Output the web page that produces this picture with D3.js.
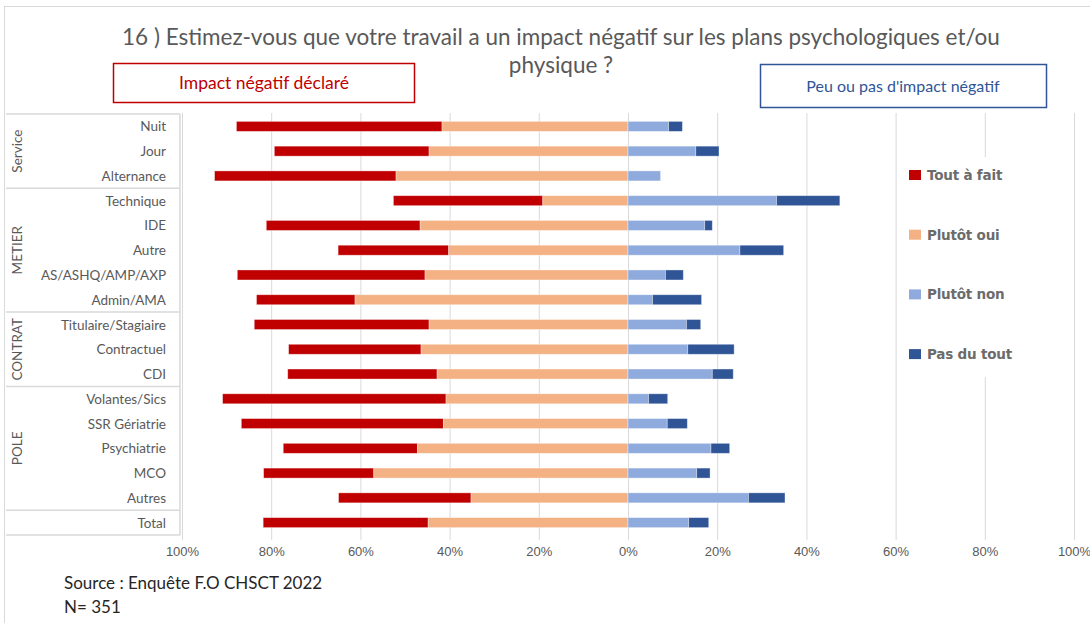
<!DOCTYPE html>
<html>
<head>
<meta charset="utf-8">
<script src="https://cdn.jsdelivr.net/npm/d3@7"></script>
<style>
	body { margin: 0; background: #fff; }
	svg { font-family: Lato, sans-serif; }
	.grid line { stroke: #d9d9d9; stroke-width: 1; }
	.table line { stroke: #d9d9d9; stroke-width: 1.5; }
	.cat { fill: #595959; font-size: 13.5px; }
	.tick text { fill: #595959; font-size: 13px; }
</style>
</head>
<body>
<div id="chart"></div>
<script>
var w = 1090, h = 623;

// Rows, top to bottom
var categories = ["Nuit", "Jour", "Alternance", "Technique", "IDE", "Autre", "AS/ASHQ/AMP/AXP", "Admin/AMA",
	"Titulaire/Stagiaire", "Contractuel", "CDI", "Volantes/Sics", "SSR Gériatrie", "Psychiatrie", "MCO", "Autres", "Total"];

// Row groups (name, number of rows)
var groupNames = ["Service", "METIER", "CONTRAT", "POLE", ""];
var groupSizes = [3, 5, 3, 5, 1];

// Values in %
var toutAFait = [46.1, 34.7, 40.7, 33.5, 34.5, 24.8, 42.1, 22.1, 39.2, 29.7, 33.5, 50.1, 45.3, 30.1, 24.7, 29.7, 37.0];
var plutotOui = [41.7, 44.6, 52.0, 19.1, 46.6, 40.2, 45.5, 61.2, 44.6, 46.4, 42.8, 40.8, 41.4, 47.2, 57.0, 35.2, 44.8];
var plutotNon = [9.1, 15.2, 7.3, 33.3, 17.2, 25.1, 8.4, 5.5, 13.1, 13.4, 18.9, 4.6, 8.8, 18.6, 15.4, 27.0, 13.6];
var pasDuTout = [3.1, 5.2, 0, 14.2, 1.7, 9.8, 4.0, 11.0, 3.2, 10.4, 4.7, 4.3, 4.5, 4.2, 3.0, 8.2, 4.5];

var seriesNames = ["Tout à fait", "Plutôt oui", "Plutôt non", "Pas du tout"];
var seriesColors = ["#c00000", "#f4b183", "#8faadc", "#2f5597"];

var tickValues = [-100, -80, -60, -40, -20, 0, 20, 40, 60, 80, 100];

var title1 = "16 ) Estimez-vous que votre travail a un impact négatif sur les plans psychologiques et/ou";
var title2 = "physique ?";

var svg = d3.select("#chart").append("svg")
	.attr("width", w)
	.attr("height", h);

// Scales
var x = d3.scaleLinear()
	.domain([-100, 100])
	.range([182, 1074]);

var y = d3.scaleBand()
	.domain(categories)
	.range([114, 535]);

var barH = 10;

// Outer frame
svg.append("rect")
	.attr("x", 4.5).attr("y", 6.5)
	.attr("width", w).attr("height", h)
	.attr("fill", "none")
	.attr("stroke", "#d9d9d9");

// Title
svg.append("text")
	.attr("x", 561).attr("y", 45)
	.attr("text-anchor", "middle")
	.attr("fill", "#595959")
	.style("font-size", "22.5px")
	.text(title1);
svg.append("text")
	.attr("x", 561).attr("y", 73)
	.attr("text-anchor", "middle")
	.attr("fill", "#595959")
	.style("font-size", "22.5px")
	.text(title2);

// Side boxes
svg.append("rect")
	.attr("x", 113.5).attr("y", 63.5).attr("width", 301).attr("height", 39)
	.attr("fill", "#fff").attr("stroke", "#c00000").attr("stroke-width", 1.5);
svg.append("text")
	.attr("x", 264).attr("y", 89)
	.attr("text-anchor", "middle")
	.attr("fill", "#c00000")
	.style("font-size", "17.5px")
	.text("Impact négatif déclaré");

svg.append("rect")
	.attr("x", 760.5).attr("y", 64.5).attr("width", 286).attr("height", 43)
	.attr("fill", "#fff").attr("stroke", "#2f5597").attr("stroke-width", 1.5);
svg.append("text")
	.attr("x", 903).attr("y", 92)
	.attr("text-anchor", "middle")
	.attr("fill", "#2f5597")
	.style("font-size", "16px")
	.text("Peu ou pas d'impact négatif");

// Gridlines
svg.append("g")
	.attr("class", "grid")
	.selectAll("line")
	.data(tickValues)
	.enter()
	.append("line")
		.attr("x1", function(d) { return x(d) + 0.5; })
		.attr("x2", function(d) { return x(d) + 0.5; })
		.attr("y1", 113)
		.attr("y2", 540);

// Axis labels
var axis = svg.append("g")
	.attr("transform", "translate(0,541)")
	.call(d3.axisBottom(x)
		.tickValues(tickValues)
		.tickSize(0)
		.tickPadding(6)
		.tickFormat(function(d) { return Math.abs(d) + "%"; }));
axis.select(".domain").remove();
axis.selectAll("text").style("font-family", null);

// Stacked bars
var rows = categories.map(function(c, i) {
	var po = plutotOui[i], taf = toutAFait[i], pn = plutotNon[i], pdt = pasDuTout[i];
	return [
		{ cat: c, s: 0, x0: -po - taf, x1: -po },
		{ cat: c, s: 1, x0: -po, x1: 0 },
		{ cat: c, s: 2, x0: 0, x1: pn },
		{ cat: c, s: 3, x0: pn, x1: pn + pdt }
	];
});

svg.append("g")
	.attr("class", "bars")
	.selectAll("rect")
	.data([].concat.apply([], rows).filter(function(d) { return d.x1 > d.x0; }))
	.enter()
	.append("rect")
		.attr("x", function(d) { return x(d.x0); })
		.attr("width", function(d) { return x(d.x1) - x(d.x0); })
		.attr("y", function(d) { return y(d.cat) + (y.bandwidth() - barH) / 2; })
		.attr("height", barH)
		.attr("fill", function(d) { return seriesColors[d.s]; })
		.attr("stroke", "#ffffff")
		.attr("stroke-opacity", 0.45)
		.attr("stroke-width", 0.8);

// Category table
var table = svg.append("g").attr("class", "table");
var bounds = [0];
groupSizes.forEach(function(n, i) { bounds.push(bounds[i] + n); });

table.selectAll("line.h")
	.data(bounds)
	.enter()
	.append("line")
		.attr("class", "h")
		.attr("x1", 6).attr("x2", 180)
		.attr("y1", function(b) { return b < categories.length ? y(categories[b]) : y.range()[1]; })
		.attr("y2", function(b) { return b < categories.length ? y(categories[b]) : y.range()[1]; });

table.append("line")
	.attr("x1", 180).attr("x2", 180)
	.attr("y1", y.range()[0]).attr("y2", y.range()[1]);

svg.selectAll("text.cat")
	.data(categories)
	.enter()
	.append("text")
		.attr("class", "cat")
		.attr("x", 166)
		.attr("y", function(d) { return y(d) + y.bandwidth() / 2 + 5; })
		.attr("text-anchor", "end")
		.text(function(d) { return d; });

svg.selectAll("text.group")
	.data(groupNames.map(function(g, i) { return { name: g, a: bounds[i], b: bounds[i + 1] }; }))
	.enter()
	.append("text")
		.attr("class", "cat")
		.attr("text-anchor", "middle")
		.attr("transform", function(d) {
			var top = y(categories[d.a]);
			var bot = y(categories[d.b - 1]) + y.bandwidth();
			return "translate(22," + ((top + bot) / 2) + ") rotate(-90)";
		})
		.text(function(d) { return d.name; });

// Legend
var legend = svg.append("g").attr("class", "legend");
legend.append("rect")
	.attr("x", 900).attr("y", 157).attr("width", 168).attr("height", 220)
	.attr("fill", "#fff");
var items = legend.selectAll("g")
	.data(seriesNames)
	.enter()
	.append("g")
		.attr("transform", function(d, i) { return "translate(909," + (170 + i * 59.7) + ")"; });
items.append("rect")
	.attr("width", 12).attr("height", 10)
	.attr("fill", function(d, i) { return seriesColors[i]; });
items.append("text")
	.attr("x", 18).attr("y", 10)
	.attr("fill", "#6b6b6b")
	.style("font-family", "'DejaVu Sans', sans-serif")
	.style("font-size", "13.5px")
	.style("font-weight", "bold")
	.style("letter-spacing", "-0.2px")
	.text(function(d) { return d; });

// Source
svg.append("text")
	.attr("x", 64).attr("y", 589)
	.attr("fill", "#262626")
	.style("font-size", "17px")
	.text("Source : Enquête F.O CHSCT 2022");
svg.append("text")
	.attr("x", 64).attr("y", 613)
	.attr("fill", "#262626")
	.style("font-size", "17px")
	.text("N= 351");
</script>
</body>
</html>
